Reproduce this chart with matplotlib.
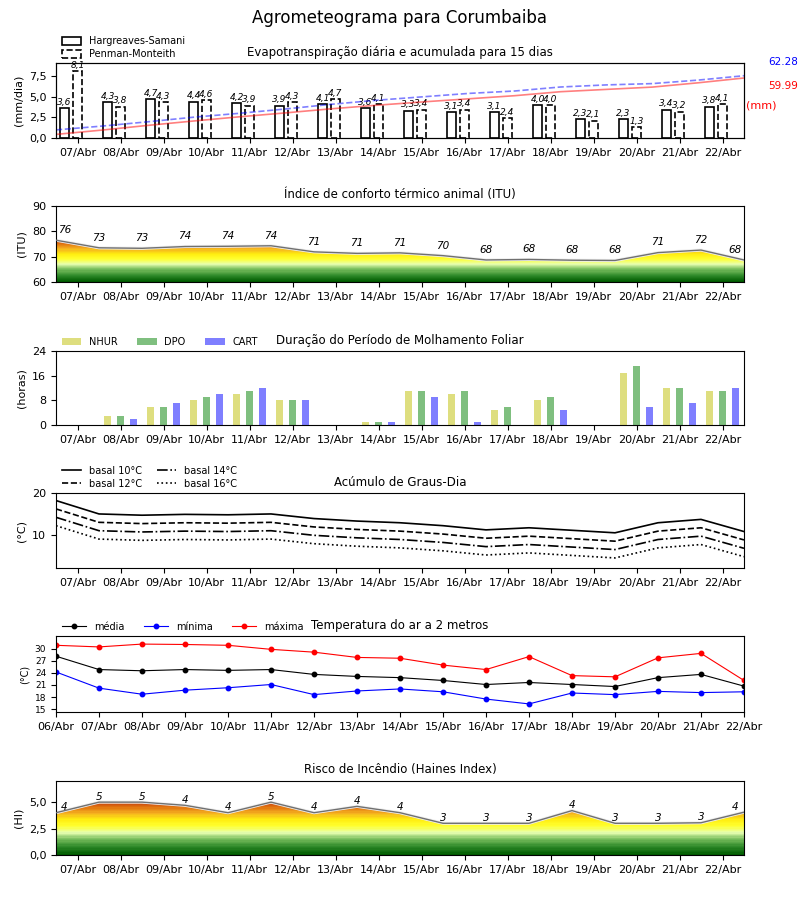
import numpy as np
import matplotlib
matplotlib.use("Agg")
import matplotlib.pyplot as plt
from matplotlib.patches import Polygon, Patch
from matplotlib.lines import Line2D
from matplotlib.colors import LinearSegmentedColormap
from matplotlib.ticker import FuncFormatter

plt.rcParams['font.family'] = ['DejaVu Sans']

# ---------------- data ----------------
days = ["07/Abr", "08/Abr", "09/Abr", "10/Abr", "11/Abr", "12/Abr", "13/Abr", "14/Abr",
        "15/Abr", "16/Abr", "17/Abr", "18/Abr", "19/Abr", "20/Abr", "21/Abr", "22/Abr"]
days_temp = ["06/Abr"] + days

et_hs = [3.6, 4.3, 4.7, 4.4, 4.2, 3.9, 4.1, 3.6, 3.3, 3.1, 3.1, 4.0, 2.3, 2.3, 3.4, 3.8]
et_pm = [8.1, 3.8, 4.3, 4.6, 3.9, 4.3, 4.7, 4.1, 3.4, 3.4, 2.4, 4.0, 2.1, 1.3, 3.2, 4.1]
cum_hs = [3.6, 7.9, 12.6, 17.0, 21.2, 25.1, 29.2, 32.8, 36.1, 39.2, 42.3, 46.3, 48.6, 50.9, 55.2, 59.99]
cum_pm = [8.1, 11.9, 16.2, 20.8, 24.7, 29.0, 33.7, 37.8, 41.2, 44.6, 47.0, 51.0, 53.1, 54.4, 57.9, 62.28]

itu = [76.5, 73.5, 73.3, 74.0, 74.1, 74.3, 71.9, 71.3, 71.5, 70.4, 68.7, 68.9, 68.6, 68.5, 71.6, 72.6, 68.7]

nhur = [0, 3, 6, 8, 10, 8, 0, 1, 11, 10, 5, 8, 0, 17, 12, 11]
dpo = [0, 3, 6, 9, 11, 8, 0, 1, 11, 11, 6, 9, 0, 19, 12, 11]
cart = [0, 2, 7, 10, 12, 8, 0, 1, 9, 1, 0, 5, 0, 6, 7, 12]

gd10 = [18.2, 15.0, 14.7, 14.9, 14.8, 15.0, 13.9, 13.3, 12.9, 12.2, 11.2, 11.7, 11.1, 10.5, 12.9, 13.7, 10.8]
gd12 = [16.2, 13.0, 12.7, 12.9, 12.8, 13.0, 11.9, 11.3, 10.9, 10.2, 9.2, 9.7, 9.1, 8.5, 10.9, 11.7, 8.8]
gd14 = [14.2, 11.0, 10.7, 10.9, 10.8, 11.0, 9.9, 9.3, 8.9, 8.2, 7.2, 7.7, 7.1, 6.5, 8.9, 9.7, 6.8]
gd16 = [12.2, 9.0, 8.7, 8.9, 8.8, 9.0, 7.9, 7.3, 6.9, 6.2, 5.2, 5.7, 5.1, 4.5, 6.9, 7.7, 4.8]

t_med = [28.1, 24.8, 24.5, 24.8, 24.6, 24.8, 23.6, 23.1, 22.8, 22.1, 21.1, 21.6, 21.1, 20.6, 22.8, 23.6, 20.7]
t_min = [24.2, 20.2, 18.7, 19.7, 20.3, 21.1, 18.6, 19.5, 20.0, 19.3, 17.5, 16.3, 19.0, 18.6, 19.4, 19.1, 19.3]
t_max = [30.8, 30.4, 31.1, 31.0, 30.8, 29.8, 29.1, 27.8, 27.6, 25.9, 24.8, 28.0, 23.3, 23.0, 27.7, 28.8, 22.1]

haines = [4.0, 5.0, 5.0, 4.7, 4.0, 5.0, 4.0, 4.6, 4.0, 3.0, 3.0, 3.0, 4.2, 3.0, 3.0, 3.05, 4.05]

# ---------------- helpers ----------------
W, H = 800, 900
fig = plt.figure(figsize=(8, 9), dpi=100)

def add_ax(top, bottom):
    return fig.add_axes([56 / W, 1 - bottom / H, 688 / W, (bottom - top) / H])

comma1 = FuncFormatter(lambda v, p: f"{v:.1f}".replace('.', ','))
TICK_FS = 8
n = len(days)
xd = np.arange(n)
xe = np.arange(n + 1) - 0.5

grad_cmap = LinearSegmentedColormap.from_list(
    "grad", [(0.0, "#005c00"), (0.15, "#2f8a2a"), (0.3, "#7cc060"), (0.42, "#e8ffb0"),
             (0.55, "#ffff30"), (0.68, "#ffee10"), (0.8, "#f5b020"), (0.92, "#e07010"),
             (1.0, "#c84a10")])

def gradient_fill(ax, x, y, ybot):
    top = max(y)
    grad = np.linspace(0, 1, 40).reshape(-1, 1)
    img = ax.imshow(grad, cmap=grad_cmap, aspect='auto', origin='lower',
                    extent=[x[0], x[-1], ybot, top], interpolation='nearest', zorder=1)
    verts = [(x[0], ybot)] + list(zip(x, y)) + [(x[-1], ybot)]
    clip = Polygon(verts, closed=True, transform=ax.transData, facecolor='none', edgecolor='none')
    ax.add_patch(clip)
    img.set_clip_path(clip)
    ax.plot(x, y, color='#eeeeee', lw=2.2, zorder=2)
    ax.plot(x, y, color='#707070', lw=1.0, zorder=3)

def day_axis(ax):
    ax.set_xlim(-0.5, n - 0.5)
    ax.set_xticks(xd)
    ax.set_xticklabels(days, fontsize=TICK_FS)
    ax.tick_params(axis='y', labelsize=TICK_FS)

fig.text(0.5, 1 - 18 / H, "Agrometeograma para Corumbaiba", ha='center', va='center', fontsize=12)

# ---------------- panel 1: ET ----------------
ax1 = add_ax(63, 138)
ax1.bar(xd - 0.3, et_hs, width=0.2, facecolor='white', edgecolor='black', lw=1.2, zorder=3)
ax1.bar(xd, et_pm, width=0.2, facecolor='white', edgecolor='black', lw=1.2, ls='--', zorder=3)
for i in range(n):
    ax1.annotate(f"{et_hs[i]:.1f}".replace('.', ','), (xd[i] - 0.3, et_hs[i]), xytext=(0, 1),
                 textcoords='offset points', ha='center', va='bottom', fontsize=6.5, style='italic', zorder=5)
    ax1.annotate(f"{et_pm[i]:.1f}".replace('.', ','), (xd[i], et_pm[i]), xytext=(0, 1),
                 textcoords='offset points', ha='center', va='bottom', fontsize=6.5, style='italic', zorder=5)
day_axis(ax1)
ax1.set_ylim(0, 9.07)
ax1.set_yticks([0, 2.5, 5.0, 7.5])
ax1.yaxis.set_major_formatter(comma1)
ax1.set_ylabel("(mm/dia)", fontsize=8)
ax1.set_title("Evapotranspiração diária e acumulada para 15 dias", fontsize=8.5, pad=5)
ax1b = ax1.twinx()
xc = np.linspace(-0.5, n - 0.5, len(cum_hs))
ax1b.plot(xc, cum_hs, color='red', alpha=0.5, lw=1.2)
ax1b.plot(xc, cum_pm, color='blue', alpha=0.5, lw=1.2, ls='--')
ax1b.set_ylim(0, 75)
ax1b.set_yticks([])
ax1.legend(handles=[Patch(facecolor='white', edgecolor='black', lw=1.2, label='Hargreaves-Samani'),
                    Patch(facecolor='white', edgecolor='black', lw=1.2, ls='--', label='Penman-Monteith')],
           loc='lower left', bbox_to_anchor=(0.0, 0.97), frameon=False, fontsize=7,
           handlelength=2.0, handleheight=0.9, labelspacing=0.3, borderaxespad=0.2)
fig.text(783 / W, 1 - 62 / H, f"{cum_pm[-1]:.2f}", color='blue', ha='center', va='center', fontsize=7.5)
fig.text(783 / W, 1 - 86 / H, f"{cum_hs[-1]:.2f}", color='red', ha='center', va='center', fontsize=7.5)
fig.text(761 / W, 1 - 105 / H, "(mm)", color='red', ha='center', va='center', fontsize=8)

# ---------------- panel 2: ITU ----------------
ax2 = add_ax(206, 282)
gradient_fill(ax2, xe, itu, 60)
for i, v in enumerate(itu):
    xx = xe[i]
    if i == 0:
        xx += 0.2
    elif i == len(itu) - 1:
        xx -= 0.2
    ax2.text(xx, v + 4, f"{int(v)}", ha='center', va='center', fontsize=7.5, style='italic', zorder=5)
day_axis(ax2)
ax2.set_ylim(60, 90)
ax2.set_yticks([60, 70, 80, 90])
ax2.set_ylabel("(ITU)", fontsize=8)
ax2.set_title("Índice de conforto térmico animal (ITU)", fontsize=8.5, pad=6)

# ---------------- panel 3: leaf wetness ----------------
ax3 = add_ax(351, 425)
bw = 0.16
ax3.bar(xd - 0.3, nhur, width=bw, color='y', alpha=0.5, label='NHUR')
ax3.bar(xd, dpo, width=bw, color='g', alpha=0.5, label='DPO')
ax3.bar(xd + 0.3, cart, width=bw, color='b', alpha=0.5, label='CART')
day_axis(ax3)
ax3.set_ylim(0, 24)
ax3.set_yticks([0, 8, 16, 24])
ax3.set_ylabel("(horas)", fontsize=8)
ax3.set_title("Duração do Período de Molhamento Foliar", fontsize=8.5, pad=5)
ax3.legend(loc='lower left', bbox_to_anchor=(0.0, 0.98), ncol=3, frameon=False, fontsize=7,
           handlelength=2.0, columnspacing=2.0, borderaxespad=0.2)

# ---------------- panel 4: degree days ----------------
ax4 = add_ax(493, 568)
ax4.plot(xe, gd10, color='black', lw=1.2, ls='-', label='basal 10°C')
ax4.plot(xe, gd12, color='black', lw=1.2, ls='--', label='basal 12°C')
ax4.plot(xe, gd14, color='black', lw=1.2, ls='-.', label='basal 14°C')
ax4.plot(xe, gd16, color='black', lw=1.2, ls=':', label='basal 16°C')
day_axis(ax4)
ax4.set_ylim(2.1, 20)
ax4.set_yticks([10, 20])
ax4.set_ylabel("(°C)", fontsize=8)
ax4.set_title("Acúmulo de Graus-Dia", fontsize=8.5, pad=5)
ax4.legend(loc='lower left', bbox_to_anchor=(0.0, 0.98), ncol=2, frameon=False, fontsize=7,
           handlelength=2.0, columnspacing=1.5, labelspacing=0.3, borderaxespad=0.2)

# ---------------- panel 5: temperature ----------------
ax5 = add_ax(636, 712)
xt = np.arange(len(days_temp))
ax5.plot(xt, t_med, color='black', lw=0.8, marker='o', ms=3.2, label='média')
ax5.plot(xt, t_min, color='blue', lw=0.8, marker='o', ms=3.2, label='mínima')
ax5.plot(xt, t_max, color='red', lw=0.8, marker='o', ms=3.2, label='máxima')
ax5.set_xlim(0, len(days_temp) - 1)
ax5.set_xticks(xt)
ax5.set_xticklabels(days_temp, fontsize=TICK_FS)
ax5.set_ylim(min(t_min) - 2, max(t_max) + 2)
ax5.set_yticks([15, 18, 21, 24, 27, 30])
ax5.tick_params(axis='y', labelsize=6.5)
ax5.set_ylabel("(°C)", fontsize=7)
ax5.set_title("Temperatura do ar a 2 metros", fontsize=8.5, pad=5)
ax5.legend(loc='lower left', bbox_to_anchor=(0.0, 0.98), ncol=3, frameon=False, fontsize=7,
           handlelength=2.5, columnspacing=2.0, borderaxespad=0.2)

# ---------------- panel 6: Haines ----------------
ax6 = add_ax(781, 855)
gradient_fill(ax6, xe, haines, 0)
for i, v in enumerate(haines):
    xx = xe[i]
    if i == 0:
        xx += 0.2
    elif i == len(haines) - 1:
        xx -= 0.2
    ax6.text(xx, v + 0.5, f"{int(v)}", ha='center', va='center', fontsize=7.5, style='italic', zorder=5)
day_axis(ax6)
ax6.set_ylim(0, 7)
ax6.set_yticks([0, 2.5, 5.0])
ax6.yaxis.set_major_formatter(comma1)
ax6.set_ylabel("(HI)", fontsize=8)
ax6.set_title("Risco de Incêndio (Haines Index)", fontsize=8.5, pad=6)

fig.savefig("out.png", dpi=100)
